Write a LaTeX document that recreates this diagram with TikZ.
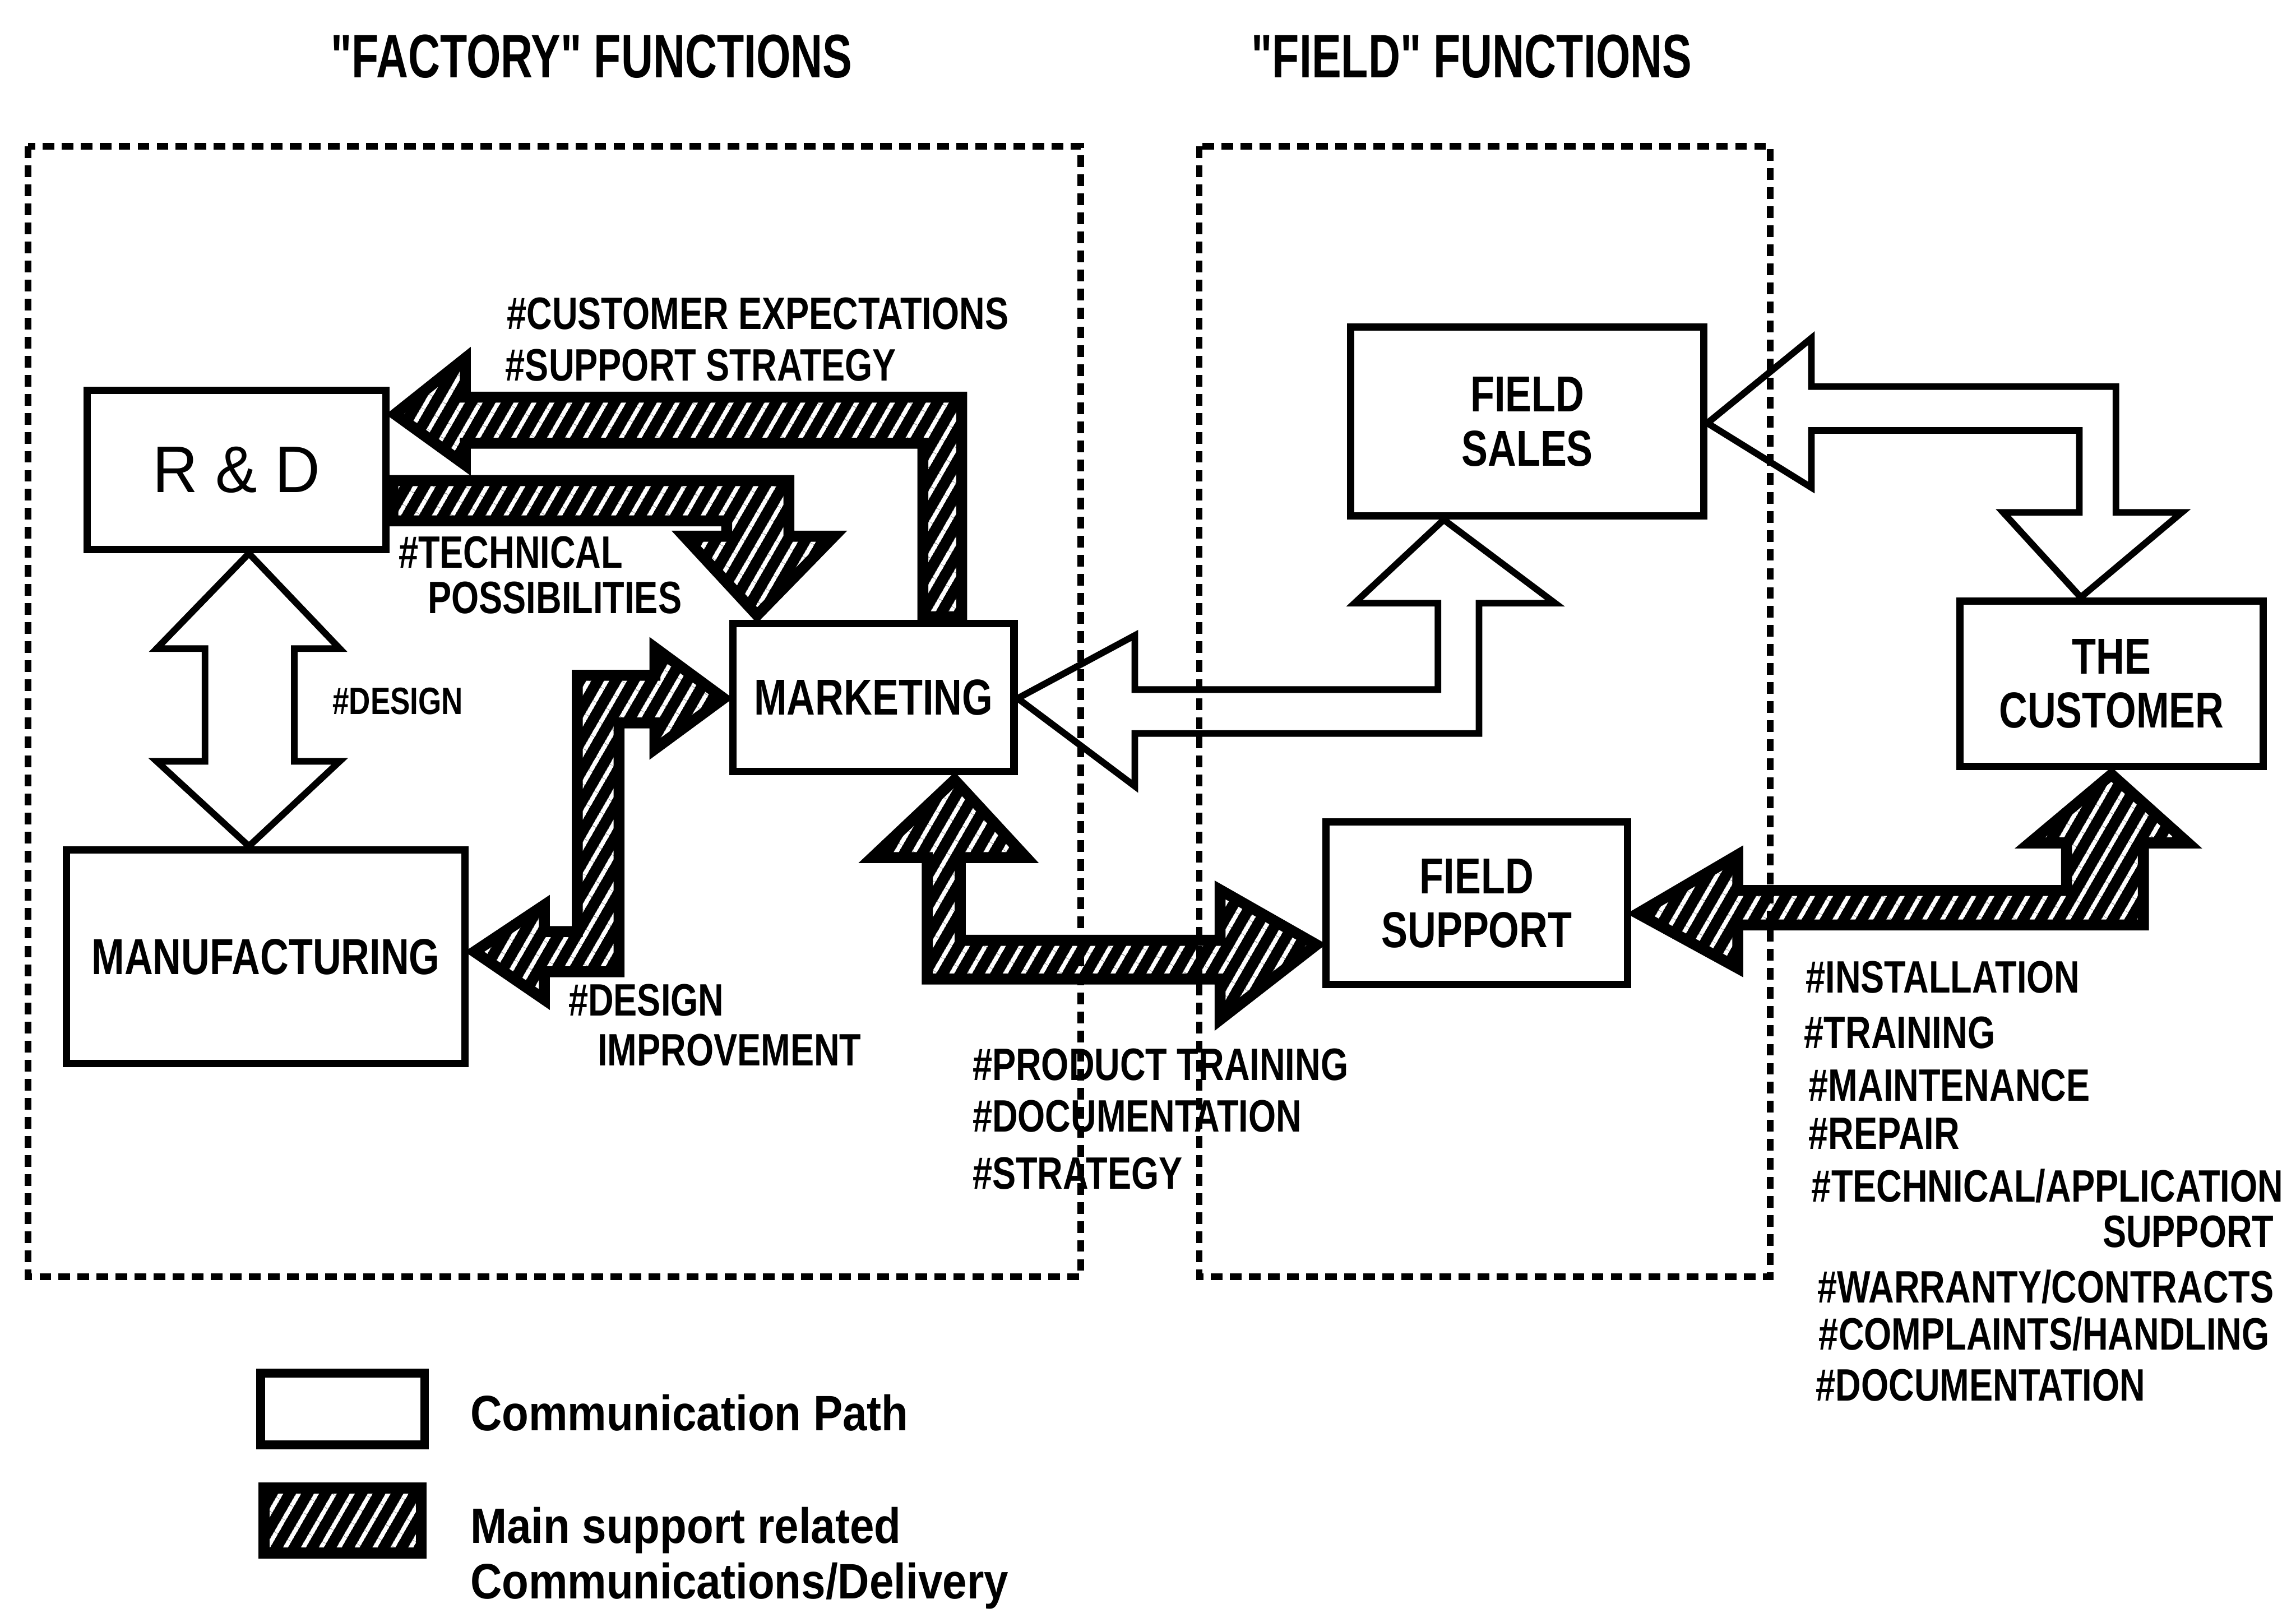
\documentclass[tikz,border=0pt]{standalone}
\usepackage{fontspec}
\newfontfamily\lblfont[FakeStretch=0.78]{Liberation Sans}
\newfontfamily\ttlfont[FakeStretch=0.72]{Liberation Sans}
\newfontfamily\rdfont[FakeStretch=0.95]{Liberation Sans}
\newfontfamily\legfont[FakeStretch=0.88]{Liberation Sans}
\usetikzlibrary{patterns.meta,calc}

% hatched block: black body, white diagonal stripes, thick black rim
\newcommand\hatchfill[1]{%
  \fill[black] #1;
  \fill[pattern={Lines[angle=60,distance=10.5pt,line width=3pt]},pattern color=white] #1;
  \begin{scope}
    \clip #1;
    \draw[line width=12pt,line join=miter] #1;
  \end{scope}
  \draw[line width=3pt,line join=miter] #1;
}

\tikzset{
  box/.style={draw,line width=5pt,fill=white,inner sep=0pt,align=center,
    font={\lblfont\bfseries\fontsize{34.5}{37}\selectfont}},
  lbl/.style={anchor=base west,inner sep=0pt,font={\lblfont\bfseries\fontsize{31}{36}\selectfont}},
  ttl/.style={anchor=base,inner sep=0pt,font={\ttlfont\bfseries\fontsize{42}{46}\selectfont}},
  leg/.style={anchor=base west,inner sep=0pt,font={\legfont\bfseries\fontsize{34}{40}\selectfont}},
  hollow/.style={draw,line width=4.5pt,fill=white,line join=miter},
  frame/.style={draw,line width=4.5pt,dash pattern=on 8pt off 5pt},
}

\begin{document}
\begin{tikzpicture}[x=1pt,y=-1pt]
\useasboundingbox (0,0) rectangle (1568,1101.6);

% titles
\node[ttl] (t1) at (404,53) {"FACTORY" FUNCTIONS};
\node[ttl] (t2) at (1005,53) {"FIELD" FUNCTIONS};

% function boxes
\node[box,minimum width=204pt,minimum height=109pt,
      font={\rdfont\fontsize{45}{50}\selectfont}] (rd) at (161.5,321) {R \& D};
\node[box,minimum width=272pt,minimum height=146pt] (mfg) at (181.5,653.5) {MANUFACTURING};
\node[box,minimum width=192pt,minimum height=101pt] (mkt) at (596.5,476.5) {MARKETING};
\node[box,minimum width=241pt,minimum height=129pt] (fsales) at (1043,288) {FIELD\\SALES};
\node[box,minimum width=206pt,minimum height=111pt] (fsup) at (1008.5,617) {FIELD\\SUPPORT};
\node[box,minimum width=207pt,minimum height=113pt] (cust) at (1442,467) {THE\\CUSTOMER};

% arrow tips on the box borders
\coordinate (a1t) at (rd.south -| 170,0);
\coordinate (a1b) at (mfg.north -| 170,0);
\coordinate (a2t) at (rd.east |- 0,283);
\coordinate (a3s) at (rd.east |- 0,326);
\coordinate (a3e) at (rd.east |- 0,358);
\coordinate (a3t) at (mkt.north -| 517,0);
\coordinate (a4t) at (mkt.west |- 0,477);
\coordinate (a4b) at (mfg.east |- 0,650);
\coordinate (a5t) at (mkt.south -| 652,0);
\coordinate (a5r) at (fsup.west |- 0,645);
\coordinate (a6l) at (mkt.east |- 0,477);
\coordinate (a6t) at (fsales.south -| 986,0);
\coordinate (a7l) at (fsales.east |- 0,289);
\coordinate (a7b) at (cust.north -| 1421,0);
\coordinate (a8l) at (fsup.east |- 0,624);
\coordinate (a8t) at (cust.south -| 1442,0);

% R&D <-> manufacturing
\path[hollow] (a1t) -- (232,443) -- (201,443) -- (201,520) -- (232,520) -- (a1b)
  -- (107,520) -- (140,520) -- (140,443) -- (107,443) -- cycle;

% marketing -> R&D
\hatchfill{(a2t) -- (320,240) -- (320,269) -- (659,269) -- (659,423.5) -- (628,423.5)
  -- (628,305) -- (320,305) -- (320,322) -- cycle}

% R&D -> marketing
\hatchfill{(a3s) -- (541,326) -- (541,364) -- (575,364) -- (a3t) -- (462,364)
  -- (494,364) -- (494,358) -- (a3e) -- cycle}

% marketing <-> manufacturing
\hatchfill{(a4t) -- (445,516) -- (445,496) -- (425,496) -- (425,666) -- (374,666)
  -- (374,687) -- (a4b) -- (374,614) -- (374,634) -- (392,634) -- (392,459)
  -- (445,459) -- (445,438) -- cycle}

% marketing <-> field support
\hatchfill{(a5t) -- (706,588) -- (658,588) -- (658,640) -- (831,640) -- (831,604)
  -- (a5r) -- (831,701) -- (831,671) -- (631,671) -- (631,588) -- (590,588) -- cycle}

% field sales <-> marketing
\path[hollow] (a6l) -- (775,434) -- (775,471) -- (982,471) -- (982,412) -- (925,412)
  -- (a6t) -- (1062,412) -- (1010,412) -- (1010,501) -- (775,501) -- (775,537) -- cycle;

% customer <-> field sales
\path[hollow] (a7l) -- (1237,231) -- (1237,264) -- (1445,264) -- (1445,350) -- (1490,350)
  -- (a7b) -- (1368,350) -- (1420,350) -- (1420,294) -- (1237,294) -- (1237,333) -- cycle;

% customer <-> field support
\hatchfill{(a8l) -- (1189,580) -- (1189,606) -- (1409,606) -- (1409,578) -- (1380,578)
  -- (a8t) -- (1500,578) -- (1466,578) -- (1466,634) -- (1189,634) -- (1189,665) -- cycle}

% dashed function areas
\draw[frame] (19,100) rectangle (738,872);
\draw[frame] (819,100) rectangle (1209,872);

% flow labels
\node[lbl] (c1) at (346,225) {\#CUSTOMER EXPECTATIONS};
\node[lbl] (c2) at (345,260) {\#SUPPORT STRATEGY};
\node[lbl] (tp1) at (272,388) {\#TECHNICAL};
\node[lbl] (tp2) at (292,419) {POSSIBILITIES};
\node[lbl,font={\lblfont\bfseries\fontsize{26}{30}\selectfont}] (ds) at (227,488) {\#DESIGN};
\node[lbl] (di1) at (388,694) {\#DESIGN};
\node[lbl] (di2) at (408,728) {IMPROVEMENT};
\node[lbl] (p1) at (664,738) {\#PRODUCT TRAINING};
\node[lbl] (p2) at (664,773) {\#DOCUMENTATION};
\node[lbl] (p3) at (664,812) {\#STRATEGY};
\node[lbl] (s1) at (1233,678) {\#INSTALLATION};
\node[lbl] (s2) at (1232,716) {\#TRAINING};
\node[lbl] (s3) at (1235,752) {\#MAINTENANCE};
\node[lbl] (s4) at (1235,785) {\#REPAIR};
\node[lbl] (s5) at (1237,821) {\#TECHNICAL/APPLICATION};
\node[lbl,anchor=base east] (s6) at (1553,852) {SUPPORT};
\node[lbl] (s7) at (1241,890) {\#WARRANTY/CONTRACTS};
\node[lbl] (s8) at (1242,922) {\#COMPLAINTS/HANDLING};
\node[lbl] (s9) at (1240,957) {\#DOCUMENTATION};

% legend
\node[draw,line width=6pt,fill=white,minimum width=112pt,minimum height=49pt] (lg1) at (234,962.5) {};
\hatchfill{(178,1014) rectangle (290,1063)}
\node[leg] (lt1) at (321,977) {Communication Path};
\node[leg] (lt2) at (321,1054) {Main support related};
\node[leg] (lt3) at (321,1092) {Communications/Delivery};
\end{tikzpicture}
\end{document}
